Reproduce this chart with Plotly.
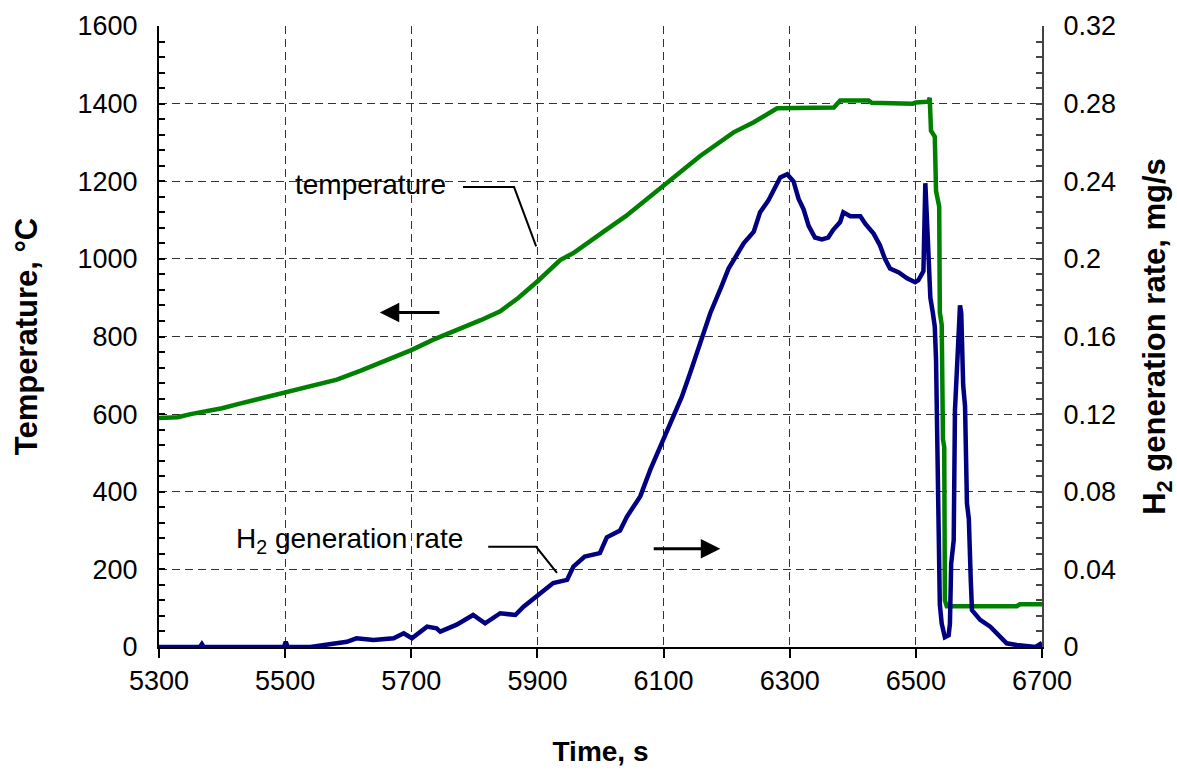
import plotly.graph_objects as go

# ---------------- data ----------------
temp_t = [5300, 5330, 5350, 5376, 5400, 5428, 5460, 5500, 5545, 5582, 5620, 5666, 5700,
          5735, 5760, 5788, 5810, 5841, 5870, 5902, 5936, 5957, 5980, 6010, 6040, 6063,
          6090, 6110, 6135, 6158, 6185, 6211, 6243, 6274, 6280, 6370, 6375, 6380, 6425,
          6430, 6495, 6500, 6520, 6522, 6524, 6530, 6532, 6537, 6538, 6541, 6543, 6545,
          6546, 6549, 6660, 6665, 6700]
temp_v = [590, 592, 600, 608, 615, 627, 640, 655, 673, 689, 712, 741, 765,
          792, 808, 825, 842, 865, 900, 945, 997, 1015, 1040, 1076, 1110, 1141,
          1175, 1205, 1235, 1265, 1295, 1326, 1352, 1385, 1388, 1390, 1400, 1408, 1408,
          1402, 1400, 1403, 1405, 1415, 1330, 1315, 1175, 1135, 862, 830, 535, 515,
          120, 105, 105, 110, 110]

h2_t = [5300, 5365, 5368, 5371, 5498, 5501, 5504, 5540, 5598, 5613, 5640, 5672, 5688,
        5701, 5725, 5740, 5746, 5772, 5798, 5817, 5841, 5865, 5878, 5902, 5925, 5947,
        5957, 5975, 5999, 6010, 6031, 6042, 6063, 6079, 6095, 6116, 6129, 6142, 6161,
        6174, 6192, 6203, 6216, 6227, 6243, 6253, 6266, 6277, 6285, 6296, 6306, 6314,
        6322, 6330, 6340, 6351, 6361, 6369, 6380, 6385, 6396, 6412, 6420, 6433, 6443,
        6451, 6459, 6473, 6486, 6499, 6504, 6512, 6515, 6519, 6521, 6523, 6527, 6530,
        6532, 6535, 6536, 6538, 6541, 6546, 6552, 6554, 6556, 6560, 6562, 6566, 6570,
        6572, 6575, 6578, 6581, 6584, 6585, 6587, 6589, 6602, 6618, 6634, 6644, 6660,
        6690, 6697, 6700]
h2_v = [0.0, 0.0, 0.0015, 0.0, 0.0, 0.0027, 0.0, 0.0, 0.0027, 0.0045, 0.0036, 0.0045, 0.0071,
        0.0045, 0.0105, 0.0096, 0.0079, 0.0115, 0.0165, 0.0122, 0.0174, 0.0165, 0.0208, 0.0268, 0.0330, 0.0346,
        0.0414, 0.0466, 0.0484, 0.0565, 0.0600, 0.0672, 0.0776, 0.0914, 0.1034, 0.1189, 0.1290, 0.1410, 0.1600,
        0.1720, 0.1860, 0.1950, 0.2020, 0.2080, 0.2140, 0.2240, 0.2300, 0.2370, 0.2420, 0.2436, 0.2400, 0.2310,
        0.2255, 0.2170, 0.2110, 0.2100, 0.2110, 0.2150, 0.2190, 0.2240, 0.2220, 0.2220, 0.2180, 0.2130, 0.2070,
        0.2000, 0.1950, 0.1930, 0.1900, 0.1880, 0.1890, 0.1937, 0.2390, 0.2100, 0.1890, 0.1800, 0.1720, 0.1650,
        0.1480, 0.0900, 0.0450, 0.0220, 0.0120, 0.0050, 0.0060, 0.0120, 0.0430, 0.0550, 0.1220, 0.1480, 0.1760,
        0.1720, 0.1350, 0.1240, 0.0740, 0.0660, 0.0410, 0.0350, 0.0190, 0.0140, 0.0105, 0.0053, 0.0019, 0.0010,
        0.0, 0.0015, 0.0]

x_ticks = [5300, 5500, 5700, 5900, 6100, 6300, 6500, 6700]
y1_ticks = [0, 200, 400, 600, 800, 1000, 1200, 1400, 1600]
y2_ticks = [0, 0.04, 0.08, 0.12, 0.16, 0.2, 0.24, 0.28, 0.32]
y2_labels = ["0", "0.04", "0.08", "0.12", "0.16", "0.2", "0.24", "0.28", "0.32"]

FONT = "Arial, Liberation Sans, sans-serif"
FS = 27      # tick labels
FA = 28      # annotations
FT = 28      # x axis title
FY = 31      # y axis titles

fig = go.Figure()
fig.add_trace(go.Scatter(x=temp_t, y=temp_v, mode="lines", line=dict(color="#008000", width=4.5),
                         name="temperature", yaxis="y"))
fig.add_trace(go.Scatter(x=h2_t, y=h2_v, mode="lines", line=dict(color="#000080", width=4.5),
                         name="H2 generation rate", yaxis="y2"))

grid = dict(showgrid=True, gridcolor="#333333", gridwidth=1, griddash="8px,5px")

fig.update_layout(
    width=1177, height=770,
    margin=dict(l=159, r=135, t=26, b=123, autoexpand=False),
    paper_bgcolor="white", plot_bgcolor="white",
    showlegend=False,
    font=dict(family=FONT, size=FS, color="black"),
    xaxis=dict(range=[5300, 6700], tickvals=x_ticks, **grid, zeroline=False, automargin=False,
               showline=True, linecolor="black", linewidth=2,
               ticks="outside", ticklen=9, tickwidth=1.5, tickcolor="black",
               tickfont=dict(size=FS),
               title=dict(text="<b>Time, s</b>", font=dict(size=FT), standoff=46)),
    yaxis=dict(range=[0, 1600], tickvals=y1_ticks, **grid, zeroline=False, automargin=False,
               showline=True, linecolor="black", linewidth=2,
               ticks="inside", ticklen=6, tickwidth=1.5, tickcolor="black",
               minor=dict(ticks="inside", ticklen=6, dtick=40, tickcolor="black", showgrid=False),
               ticklabelstandoff=14, tickfont=dict(size=FS),
               title=dict(text="<b>Temperature, °C</b>", font=dict(size=FY), standoff=31)),
    yaxis2=dict(range=[0, 0.32], overlaying="y", side="right", tickvals=y2_ticks, ticktext=y2_labels,
                showgrid=False, zeroline=False, automargin=False,
                showline=True, linecolor="#444444", linewidth=2,
                ticks="inside", ticklen=6, tickwidth=1.5, tickcolor="#444444",
                minor=dict(ticks="inside", ticklen=6, dtick=0.008, tickcolor="#444444", showgrid=False),
                ticklabelstandoff=14, tickfont=dict(size=FS),
                title=dict(text="<b>H<sub>2</sub> generation rate, mg/s</b>", font=dict(size=FY), standoff=30)),
)

# annotation texts
fig.add_annotation(x=5635, y=1192, xref="x", yref="y", text="temperature", showarrow=False,
                   font=dict(size=FA, family=FONT, color="black"))
fig.add_annotation(x=5602, y=274, xref="x", yref="y", text="H<sub>2</sub> generation rate", showarrow=False,
                   font=dict(size=FA, family=FONT, color="black"))

# leader lines
fig.add_trace(go.Scatter(x=[5782, 5863, 5898], y=[1185, 1185, 1032], mode="lines",
                         line=dict(color="black", width=2), hoverinfo="skip", yaxis="y"))
fig.add_trace(go.Scatter(x=[5822, 5898, 5931], y=[258, 258, 191], mode="lines",
                         line=dict(color="black", width=2), hoverinfo="skip", yaxis="y"))

# direction arrows
fig.add_annotation(x=5650, y=862, ax=5747, ay=862, xref="x", yref="y", axref="x", ayref="y",
                   text="", showarrow=True, arrowhead=2, arrowsize=1.3, arrowwidth=3, arrowcolor="black")
fig.add_annotation(x=6190, y=253, ax=6082, ay=253, xref="x", yref="y", axref="x", ayref="y",
                   text="", showarrow=True, arrowhead=2, arrowsize=1.3, arrowwidth=3, arrowcolor="black")

fig.write_html("out.html")
